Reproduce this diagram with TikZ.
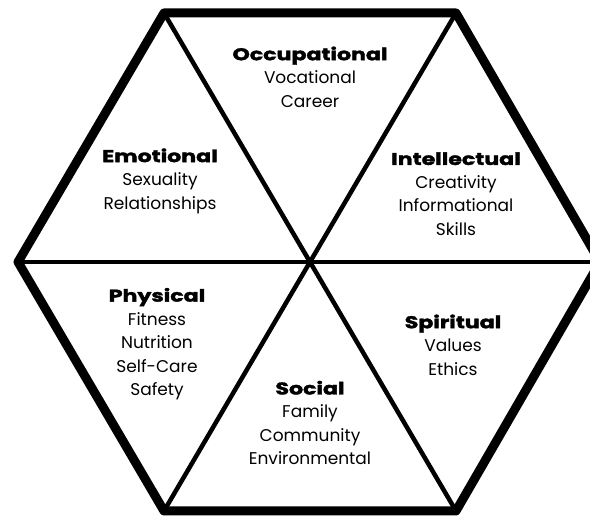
\documentclass[tikz,border=0pt]{standalone}
\usepackage{fontspec}
\setmainfont{Poppins}
\newfontfamily\headfont[FakeStretch=1.3,FakeBold=2]{Poppins}
\begin{document}
\begin{tikzpicture}[x=1pt,y=-1pt,
  outer/.style={line width=9pt,line join=round,line cap=round},
  inner/.style={line width=4.5pt},
  lbl/.style={align=center,inner sep=0pt,font=\fontsize{17}{23.5}\selectfont},
]
\useasboundingbox (0,0) rectangle (590,518);
\clip (0,0) rectangle (590,518);
\coordinate (C) at (310,262);
\coordinate (TL) at (164,13);
\coordinate (TR) at (456,13);
\coordinate (R) at (600,262);
\coordinate (BR) at (456,511);
\coordinate (BL) at (164,511);
\coordinate (L) at (18,262);
\draw[inner] (L) -- (R);
\draw[inner] (TL) -- (BR);
\draw[inner] (TR) -- (BL);
\draw[outer] (TL) -- (TR) -- (R) -- (BR) -- (BL) -- (L) -- cycle;
\node[lbl] (occ) at (310,77) {{\headfont\bfseries Occupational}\\Vocational\\Career};
\node[lbl] (emo) at (160,181) {{\headfont\bfseries Emotional}\\Sexuality\\Relationships};
\node[lbl] (int) at (456,194) {{\headfont\bfseries Intellectual}\\Creativity\\Informational\\Skills};
\node[lbl] (phy) at (157,344) {{\headfont\bfseries Physical}\\Fitness\\Nutrition\\Self-Care\\Safety};
\node[lbl] (spi) at (453,345) {{\headfont\bfseries Spiritual}\\Values\\Ethics};
\node[lbl] (soc) at (310,423) {{\headfont\bfseries Social}\\Family\\Community\\Environmental};
\end{tikzpicture}
\end{document}
